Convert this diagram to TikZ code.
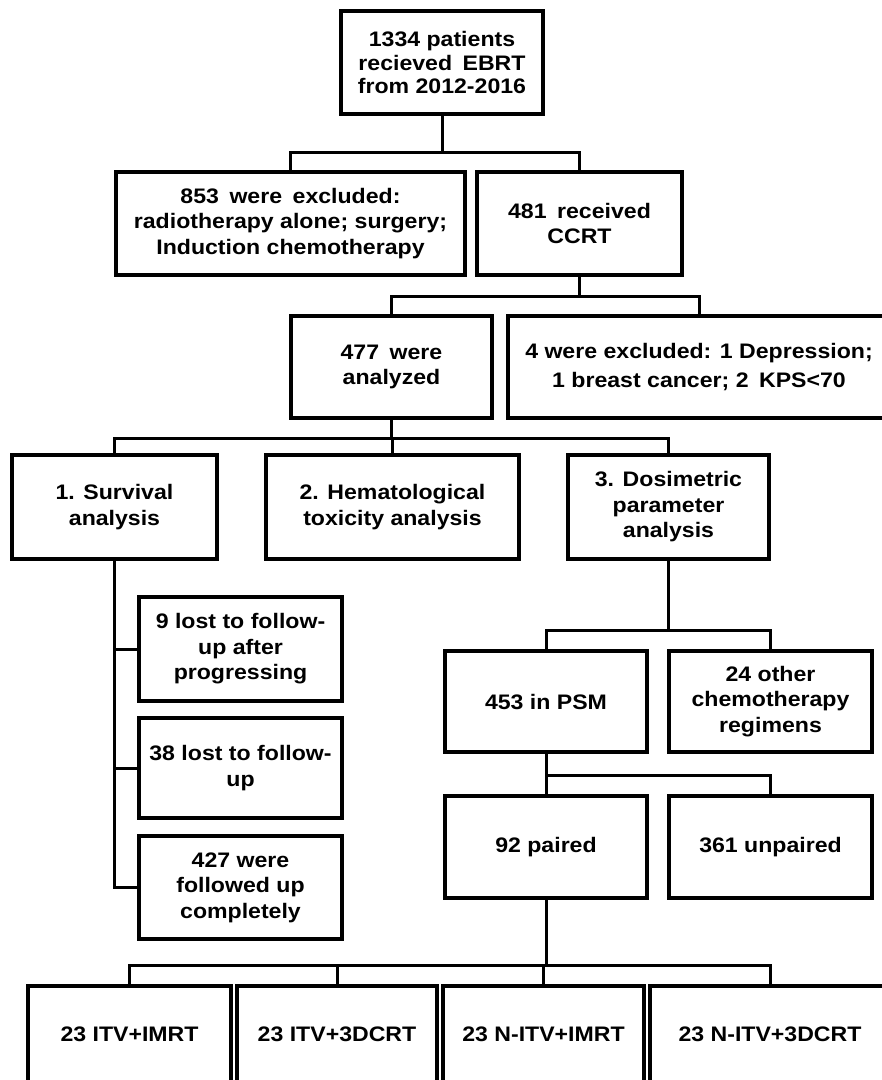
\documentclass[tikz,border=0pt]{standalone}
\usepackage{fontspec}
\setmainfont{Liberation Sans}[FakeStretch=1.1]
\begin{document}
\begin{tikzpicture}[x=1pt,y=-1pt,
  box/.style={draw=black, line width=3.5pt, rectangle, inner sep=0pt, align=center,
    font=\bfseries\fontsize{21}{25.5}\selectfont},
  conn/.style={draw=black, line width=3pt, line cap=rect}]
\useasboundingbox (0,0) rectangle (882,1080);
\clip (0,0) rectangle (882,1080);
\fill[white] (0,0) rectangle (882,1080);
% boxes: center x, center y, width, height
\node[box, minimum width=202pt, minimum height=103pt, font=\bfseries\fontsize{21}{23.5}\selectfont] (top)  at (442,62.5) {1334 patients\\recieved\enspace EBRT\\from 2012-2016};
\node[box, minimum width=349pt, minimum height=103pt] (ex1)  at (290.5,223.5) {853\enspace were\enspace excluded:\\radiotherapy alone; surgery;\\Induction chemotherapy};
\node[box, minimum width=205pt, minimum height=103pt] (ccrt) at (579.5,223.5) {481\enspace received\\CCRT};
\node[box, minimum width=201pt, minimum height=102pt] (anal) at (391.5,367) {477\enspace were\\analyzed};
\node[box, minimum width=382pt, minimum height=102pt] (ex2)  at (699,367) {4 were excluded: 1 Depression;\\[3pt]1 breast cancer; 2\enspace KPS<70};
\node[box, minimum width=205pt, minimum height=104pt] (surv) at (114.5,507) {1. Survival\\analysis};
\node[box, minimum width=253pt, minimum height=104pt] (hema) at (392.5,507) {2. Hematological\\toxicity analysis};
\node[box, minimum width=201pt, minimum height=104pt] (dosi) at (668.5,507) {3. Dosimetric\\parameter\\analysis};
\node[box, minimum width=203pt, minimum height=104pt] (l1)   at (240.5,649) {9 lost to follow-\\up after\\progressing};
\node[box, minimum width=203pt, minimum height=100pt] (l2)   at (240.5,768) {38 lost to follow-\\up};
\node[box, minimum width=203pt, minimum height=103pt] (l3)   at (240.5,887.5) {427 were\\followed up\\completely};
\node[box, minimum width=202pt, minimum height=101pt] (psm)  at (546,701.5) {453 in PSM};
\node[box, minimum width=203pt, minimum height=101pt] (oth)  at (770.5,701.5) {24 other\\chemotherapy\\regimens};
\node[box, minimum width=202pt, minimum height=102pt] (pair) at (546,847) {92 paired};
\node[box, minimum width=203pt, minimum height=102pt] (unp)  at (770.5,847) {361 unpaired};
\node[box, minimum width=203pt, minimum height=96pt] (b1)   at (129.5,1034) {23 ITV+IMRT};
\node[box, minimum width=200pt, minimum height=96pt] (b2)   at (337,1034) {23 ITV+3DCRT};
\node[box, minimum width=201pt, minimum height=96pt] (b3)   at (543.5,1034) {23 N-ITV+IMRT};
\node[box, minimum width=240pt, minimum height=96pt] (b4)   at (770,1034) {23 N-ITV+3DCRT};
% junction coordinates
\coordinate (j1) at (443,152);
\coordinate (j2) at (580,296);
\coordinate (j3) at (392,438);
\coordinate (j4) at (668,630);
\coordinate (j5) at (544,775);
\coordinate (j6) at (544,965);
% connectors
\draw[conn] (top.south) -- (top.south |- j1);
\draw[conn] (ex1.north) -- (ex1.north |- j1) -- (ccrt.north |- j1) -- (ccrt.north);
\draw[conn] (ccrt.south) -- (ccrt.south |- j2);
\draw[conn] (anal.north) -- (anal.north |- j2) -- (ex2.north |- j2) -- (ex2.north);
\draw[conn] (anal.south) -- (anal.south |- j3);
\draw[conn] (surv.north) -- (surv.north |- j3) -- (dosi.north |- j3) -- (dosi.north);
\draw[conn] (hema.north) -- (hema.north |- j3);
\draw[conn] (surv.south) -- (surv.south |- l3.west) -- (l3.west);
\draw[conn] (surv.south |- l1.west) -- (l1.west);
\draw[conn] (surv.south |- l2.west) -- (l2.west);
\draw[conn] (dosi.south) -- (dosi.south |- j4);
\draw[conn] (psm.north) -- (psm.north |- j4) -- (oth.north |- j4) -- (oth.north);
\draw[conn] (psm.south) -- (psm.south |- j5);
\draw[conn] (pair.north) -- (pair.north |- j5) -- (unp.north |- j5) -- (unp.north);
\draw[conn] (pair.south) -- (pair.south |- j6);
\draw[conn] (b1.north) -- (b1.north |- j6) -- (b4.north |- j6) -- (b4.north);
\draw[conn] (b2.north) -- (b2.north |- j6);
\draw[conn] (b3.north) -- (b3.north |- j6);
\end{tikzpicture}
\end{document}
